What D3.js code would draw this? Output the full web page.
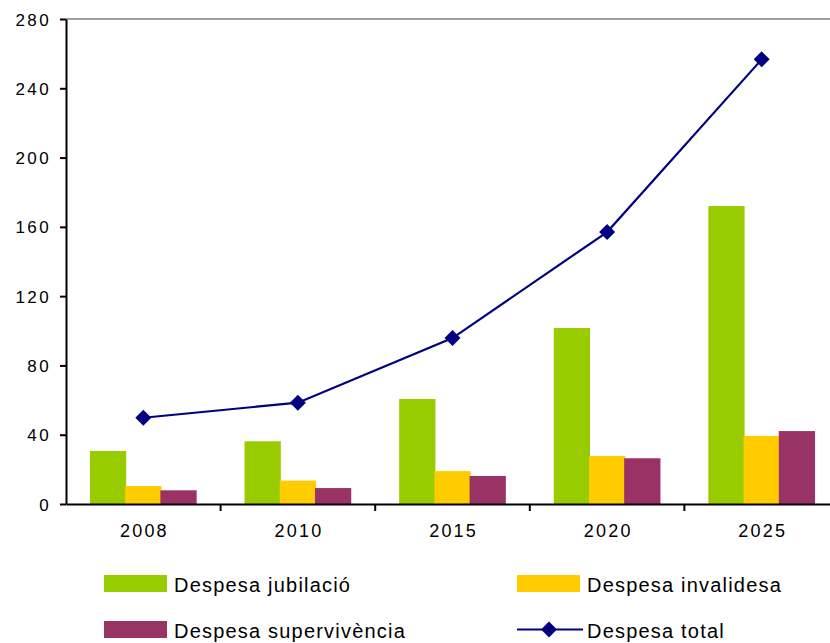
<!DOCTYPE html>
<html>
<head>
<meta charset="utf-8">
<script src="https://cdn.jsdelivr.net/npm/d3@7"></script>
<style>
  body { margin: 0; background: #fff; }
  text { font-family: "Liberation Sans", Arial, sans-serif; fill: #000; }
</style>
</head>
<body>
<svg width="830" height="643"></svg>
<script>
var years = ["2008", "2010", "2015", "2020", "2025"];
var jubilacio = [30.6, 36.2, 60.6, 101.6, 172];
var invalidesa = [10.4, 13.5, 19, 27.7, 39.3];
var supervivencia = [7.9, 9.2, 16.2, 26.4, 42.1];
var total = [49.8, 58.5, 95.8, 157, 256.7];
var yTicks = [0, 40, 80, 120, 160, 200, 240, 280];

var seriesNames = ["Despesa jubilació", "Despesa invalidesa", "Despesa supervivència"];
var colors = ["#99cc00", "#ffcc00", "#993366"];
var lineColor = "#000080";

var svg = d3.select("svg");
var plotLeft = 66, plotRight = 839, plotTop = 19, plotBottom = 504;

var x = d3.scaleBand().domain(years).range([plotLeft, plotRight]);
var y = d3.scaleLinear().domain([0, 280]).range([plotBottom, plotTop]);
var sub = d3.scaleBand().domain([0, 1, 2])
    .range([0, x.bandwidth()]).paddingInner(-0.03).paddingOuter(0.68);

// top frame line
svg.append("line")
    .attr("x1", plotLeft).attr("x2", 830)
    .attr("y1", y(280)).attr("y2", y(280))
    .attr("stroke", "#808080").attr("stroke-width", 1.5);

// bars
var bars = [jubilacio, invalidesa, supervivencia];
bars.forEach(function (vals, s) {
    svg.append("g").selectAll("rect")
        .data(vals)
        .enter().append("rect")
        .attr("x", function (d, i) { return x(years[i]) + sub(s); })
        .attr("width", sub.bandwidth())
        .attr("y", function (d) { return y(d); })
        .attr("height", function (d) { return y(0) - y(d); })
        .attr("fill", colors[s]);
});

// y axis
var yAxis = svg.append("g")
    .attr("transform", "translate(" + plotLeft + ",0)")
    .call(d3.axisLeft(y).tickValues(yTicks).tickSize(6).tickPadding(9).tickSizeOuter(0));
yAxis.select(".domain").attr("stroke", "#000").attr("stroke-width", 2);
yAxis.selectAll(".tick line").attr("stroke", "#000").attr("stroke-width", 2);
yAxis.selectAll("text").style("font-size", "17px").style("letter-spacing", "2.4px")
    .attr("dy", "0.36em");

// x axis
var xAxis = svg.append("g")
    .attr("transform", "translate(0," + plotBottom + ")")
    .call(d3.axisBottom(x).tickSize(0).tickPadding(20).tickSizeOuter(0));
xAxis.select(".domain").attr("stroke", "#000").attr("stroke-width", 2);
xAxis.selectAll("text").style("font-size", "18px").style("letter-spacing", "2.2px")
    .attr("dx", "0.06em");
xAxis.selectAll(".sep")
    .data(years.slice(1))
    .enter().append("line")
    .attr("x1", function (d) { return x(d); })
    .attr("x2", function (d) { return x(d); })
    .attr("y1", 0).attr("y2", 7)
    .attr("stroke", "#000").attr("stroke-width", 2);

// total line
var line = d3.line()
    .x(function (d, i) { return x(years[i]) + x.bandwidth() / 2; })
    .y(function (d) { return y(d); });
svg.append("path")
    .datum(total)
    .attr("d", line)
    .attr("fill", "none")
    .attr("stroke", lineColor)
    .attr("stroke-width", 2.2);

var diamond = d3.symbol().type(d3.symbolSquare).size(128);
svg.append("g").selectAll("path")
    .data(total)
    .enter().append("path")
    .attr("d", diamond)
    .attr("transform", function (d, i) {
        return "translate(" + (x(years[i]) + x.bandwidth() / 2) + "," + y(d) + ") rotate(45)";
    })
    .attr("fill", lineColor);

// legend
var legend = [
    { name: seriesNames[0], color: colors[0], lx: 104, ly: 575 },
    { name: seriesNames[1], color: colors[1], lx: 517, ly: 575 },
    { name: seriesNames[2], color: colors[2], lx: 104, ly: 621 },
    { name: "Despesa total", color: lineColor, lx: 517, ly: 621, line: true }
];
legend.forEach(function (d) {
    var g = svg.append("g").attr("transform", "translate(" + d.lx + "," + d.ly + ")");
    if (d.line) {
        g.append("line").attr("x1", 0).attr("x2", 66).attr("y1", 8.5).attr("y2", 8.5)
            .attr("stroke", d.color).attr("stroke-width", 2.2);
        g.append("path").attr("d", diamond)
            .attr("transform", "translate(32,8.5) rotate(45)")
            .attr("fill", d.color);
    } else {
        g.append("rect").attr("width", 63).attr("height", 17).attr("fill", d.color);
    }
    g.append("text").attr("x", 70).attr("y", 16.5)
        .style("font-size", "20px").style("letter-spacing", "1.2px")
        .text(d.name);
});
</script>
</body>
</html>
